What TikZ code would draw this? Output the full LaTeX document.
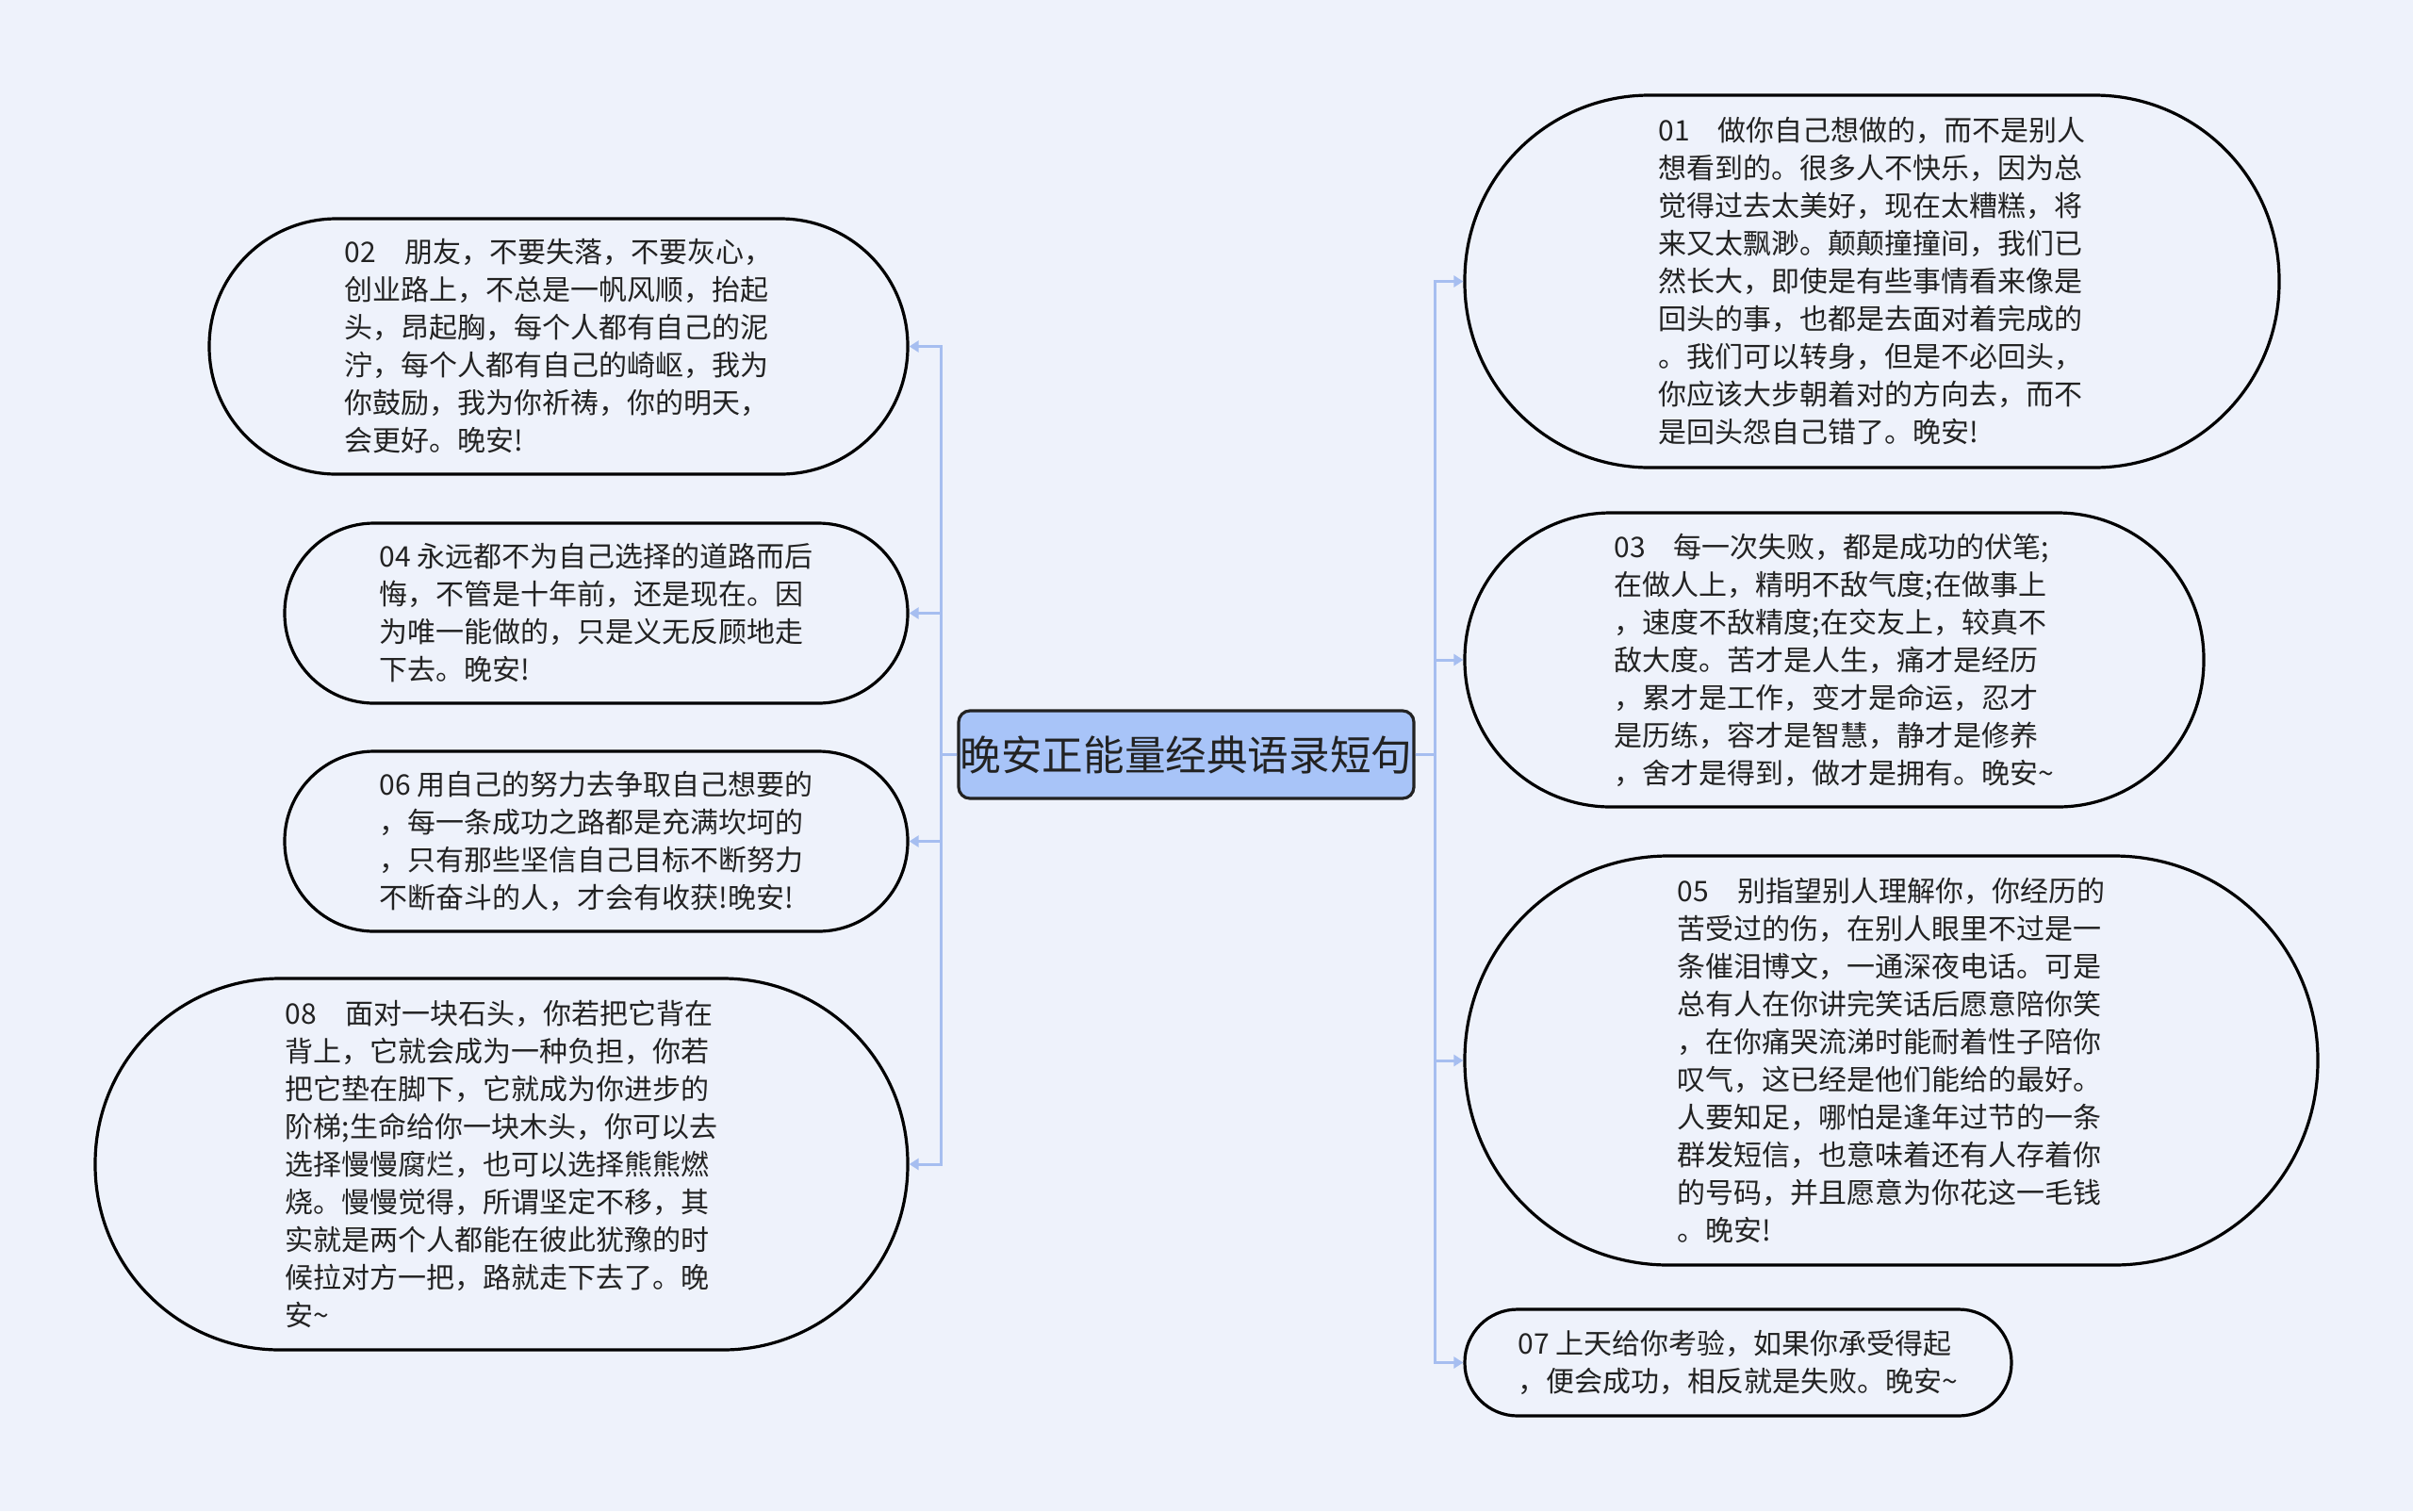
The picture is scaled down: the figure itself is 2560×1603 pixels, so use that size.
\documentclass[tikz,border=0pt]{standalone}
\usepackage{fontspec}
\setmainfont{Noto Sans CJK SC}
\usetikzlibrary{arrows.meta}
\definecolor{bg}{RGB}{238,242,251}
\definecolor{linkc}{RGB}{166,190,240}
\definecolor{rootfill}{RGB}{168,196,248}
\definecolor{ink}{RGB}{34,34,34}
\tikzset{
  leaf/.style={draw=black, line width=1.6pt, fill=bg, rounded corners=#1, align=left,
    inner sep=0pt, text=ink, font=\fontsize{15pt}{20pt}\selectfont},
  root/.style={draw=ink, fill=rootfill, line width=1.6pt, rounded corners=6pt,
    minimum width=241.5pt, minimum height=46.5pt, inner sep=0pt, text=ink,
    font=\fontsize{21.8pt}{26pt}\selectfont},
  link/.style={draw=linkc, line width=1.5pt, -{Triangle[length=5pt,width=6pt]}}
}
\begin{document}
\begin{tikzpicture}[x=0.5pt,y=-0.5pt]
\fill[bg] (0,0) rectangle (2560,1603);
\useasboundingbox (0,0) rectangle (2560,1603);

\node[root] (c) at (1258.5,800.5) {晚安正能量经典语录短句};

\node[leaf=98pt, minimum width=432pt, minimum height=197.5pt] (n01) at (1986,298.5) {01　做你自己想做的，而不是别人\\
想看到的。很多人不快乐，因为总\\
觉得过去太美好，现在太糟糕，将\\
来又太飘渺。颠颠撞撞间，我们已\\
然长大，即使是有些事情看来像是\\
回头的事，也都是去面对着完成的\\
。我们可以转身，但是不必回头，\\
你应该大步朝着对的方向去，而不\\
是回头怨自己错了。晚安!};

\node[leaf=77.5pt, minimum width=392pt, minimum height=156pt] (n03) at (1946,700) {03　每一次失败，都是成功的伏笔;\\
在做人上，精明不敌气度;在做事上\\
，速度不敌精度;在交友上，较真不\\
敌大度。苦才是人生，痛才是经历\\
，累才是工作，变才是命运，忍才\\
是历练，容才是智慧，静才是修养\\
，舍才是得到，做才是拥有。晚安\textasciitilde};

\node[leaf=108pt, minimum width=452.5pt, minimum height=217pt] (n05) at (2006.5,1125) {05　别指望别人理解你，你经历的\\
苦受过的伤，在别人眼里不过是一\\
条催泪博文，一通深夜电话。可是\\
总有人在你讲完笑话后愿意陪你笑\\
，在你痛哭流涕时能耐着性子陪你\\
叹气，这已经是他们能给的最好。\\
人要知足，哪怕是逢年过节的一条\\
群发短信，也意味着还有人存着你\\
的号码，并且愿意为你花这一毛钱\\
。晚安!};

\node[leaf=28pt, minimum width=290pt, minimum height=56.5pt] (n07) at (1844,1445.5) {07 上天给你考验，如果你承受得起\\
，便会成功，相反就是失败。晚安\textasciitilde};

\node[leaf=67.5pt, minimum width=370.5pt, minimum height=135.5pt] (n02) at (592.5,367.5) {02　朋友，不要失落，不要灰心，\\
创业路上，不总是一帆风顺，抬起\\
头，昂起胸，每个人都有自己的泥\\
泞，每个人都有自己的崎岖，我为\\
你鼓励，我为你祈祷，你的明天，\\
会更好。晚安!};

\node[leaf=47.5pt, minimum width=330.5pt, minimum height=95.5pt] (n04) at (632.5,650.5) {04 永远都不为自己选择的道路而后\\
悔，不管是十年前，还是现在。因\\
为唯一能做的，只是义无反顾地走\\
下去。晚安!};

\node[leaf=47.5pt, minimum width=330.5pt, minimum height=95.5pt] (n06) at (632.5,892.5) {06 用自己的努力去争取自己想要的\\
，每一条成功之路都是充满坎坷的\\
，只有那些坚信自己目标不断努力\\
不断奋斗的人，才会有收获!晚安!};

\node[leaf=98pt, minimum width=431pt, minimum height=197pt] (n08) at (532,1235) {08　面对一块石头，你若把它背在\\
背上，它就会成为一种负担，你若\\
把它垫在脚下，它就成为你进步的\\
阶梯;生命给你一块木头，你可以去\\
选择慢慢腐烂，也可以选择熊熊燃\\
烧。慢慢觉得，所谓坚定不移，其\\
实就是两个人都能在彼此犹豫的时\\
候拉对方一把，路就走下去了。晚\\
安\textasciitilde};

\coordinate (tl) at (998,800.5);
\coordinate (tr) at (1522,800.5);

\draw[link] (c.west) -- (tl) |- (n02.east);
\draw[link] (c.west) -- (tl) |- (n04.east);
\draw[link] (c.west) -- (tl) |- (n06.east);
\draw[link] (c.west) -- (tl) |- (n08.east);
\draw[link] (c.east) -- (tr) |- (n01.west);
\draw[link] (c.east) -- (tr) |- (n03.west);
\draw[link] (c.east) -- (tr) |- (n05.west);
\draw[link] (c.east) -- (tr) |- (n07.west);
\end{tikzpicture}
\end{document}
